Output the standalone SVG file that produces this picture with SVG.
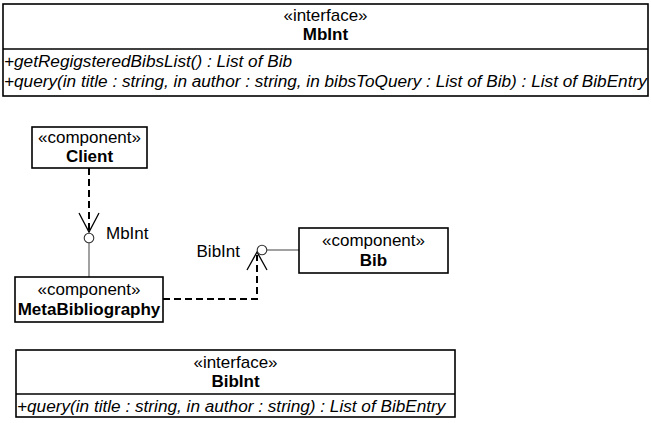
<svg xmlns="http://www.w3.org/2000/svg" width="651" height="423" viewBox="0 0 651 423">
  <style>
    text { font-family: "Liberation Sans", Arial, sans-serif; font-size: 17px; fill: #000; }
    .name { font-weight: bold; }
    .op { font-style: italic; font-size: 17.2px; }
    .box { fill: #fff; stroke: #000; stroke-width: 1.6; }
    .sep { stroke: #000; stroke-width: 1.3; }
    .dep { fill: none; stroke: #000; stroke-width: 2; stroke-dasharray: 7 4; }
    .head { fill: none; stroke: #000; stroke-width: 1.3; }
    .lolly { fill: #fff; stroke: #333; stroke-width: 1.1; }
    .link { stroke: #555; stroke-width: 1.1; }
  </style>

  <rect width="651" height="423" fill="#fff"/>

  <!-- interface MbInt -->
  <g id="MbInt">
    <rect class="box" x="3" y="4" width="645" height="92"/>
    <line class="sep" x1="3" y1="49" x2="648" y2="49"/>
    <text x="325.5" y="21" text-anchor="middle">«interface»</text>
    <text class="name" x="325.5" y="40" text-anchor="middle">MbInt</text>
    <text class="op" x="4" y="67">+getRegigsteredBibsList() : List of Bib</text>
    <text class="op" x="4" y="87">+query(in title : string, in author : string, in bibsToQuery : List of Bib) : List of BibEntry</text>
  </g>

  <!-- connectors -->
  <g id="connectors">
    <!-- Client requires MbInt -->
    <line class="dep" x1="89" y1="168" x2="89" y2="230"/>
    <polyline class="head" points="79,213 89,232 99,213"/>
    <line class="link" x1="89" y1="243" x2="89" y2="277"/>
    <circle class="lolly" cx="89" cy="238" r="4.8"/>
    <!-- MetaBibliography requires BibInt -->
    <polyline class="dep" points="163,299 257,299 257,255"/>
    <polyline class="head" points="247,270 257,252 267,270"/>
    <line class="link" x1="267" y1="250" x2="299" y2="250"/>
    <circle class="lolly" cx="262" cy="250" r="4.8"/>
  </g>

  <g id="MbInt-label"><text x="106" y="239">MbInt</text></g>
  <g id="BibInt-label"><text x="240" y="257" text-anchor="end">BibInt</text></g>

  <!-- component Client -->
  <g id="Client">
    <rect class="box" x="32" y="127" width="115" height="41"/>
    <text x="89.5" y="143" text-anchor="middle">«component»</text>
    <text class="name" x="89.5" y="162" text-anchor="middle">Client</text>
  </g>

  <!-- component MetaBibliography -->
  <g id="MetaBibliography">
    <rect class="box" x="15" y="277" width="148" height="45"/>
    <text x="89" y="295" text-anchor="middle">«component»</text>
    <text class="name" x="89" y="315" text-anchor="middle">MetaBibliography</text>
  </g>

  <!-- component Bib -->
  <g id="Bib">
    <rect class="box" x="299" y="228" width="149" height="45"/>
    <text x="373.5" y="246" text-anchor="middle">«component»</text>
    <text class="name" x="373.5" y="266" text-anchor="middle">Bib</text>
  </g>

  <!-- interface BibInt -->
  <g id="BibInt">
    <rect class="box" x="16" y="350" width="439" height="67"/>
    <line class="sep" x1="16" y1="394" x2="455" y2="394"/>
    <text x="235.5" y="368" text-anchor="middle">«interface»</text>
    <text class="name" x="235.5" y="387" text-anchor="middle">BibInt</text>
    <text class="op" x="17" y="412">+query(in title : string, in author : string) : List of BibEntry</text>
  </g>
</svg>
